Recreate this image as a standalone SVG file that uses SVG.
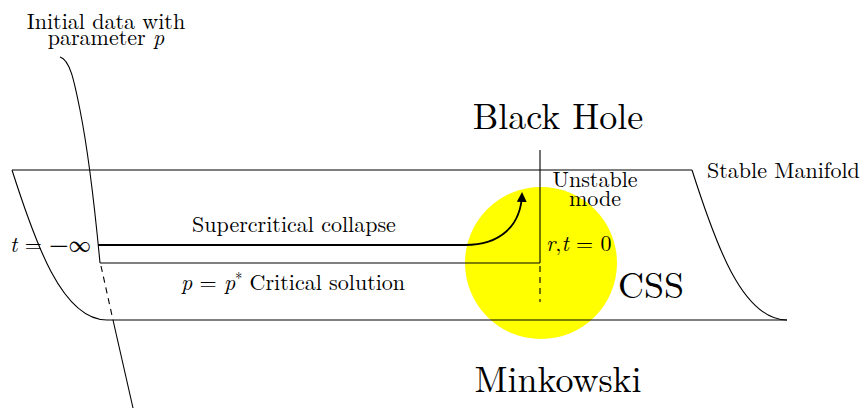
<svg xmlns="http://www.w3.org/2000/svg" width="861" height="410" viewBox="0 0 861 410">
<style>
  .ln{fill:none;stroke:#000;stroke-width:1.1}
  .th{fill:none;stroke:#000;stroke-width:1.8}
  .ds{fill:none;stroke:#000;stroke-width:1.1;stroke-dasharray:6,5}
  .it{font-style:italic}
</style>
<defs>
  <marker id="ah" markerWidth="10" markerHeight="10" refX="8" refY="5" orient="auto" markerUnits="userSpaceOnUse">
    <path d="M0,0 L10,5 L0,10 Z" fill="#000"/>
  </marker>
</defs>
<rect width="861" height="410" fill="#fff"/>
<g id="css-circle">
  <circle cx="541" cy="263" r="76" fill="#ffff00"/>
</g>
<g id="manifold">
  <path class="ln" d="M12,170 L692,170"/>
  <path class="ln" d="M107,320 L787,320"/>
  <path class="ln" d="M12,170 C35,242 62,320 107,320"/>
  <path class="ln" d="M692,170 C715,242 742,320 787,320"/>
</g>
<g id="initial-data">
  <path class="ln" d="M60,57 C70,60 74,80 80,110 C88,150 95,210 100,263"/>
  <path class="ds" d="M101,266 L113,320"/>
  <path class="ln" d="M113,320 L133,408"/>
</g>
<g id="connectors">
  <path class="th" d="M98,245 L465,245 C500,245 521,226 522,194" marker-end="url(#ah)"/>
  <path class="ln" d="M100,263 L540,263"/>
  <path class="ln" d="M540,150 L540,263"/>
  <path class="ds" d="M540,266 L540,302"/>
</g>
<g id="labels" fill="#000">
  <text x="106" y="29" font-family="Latin Modern Roman, serif" font-size="22" text-anchor="middle">Initial data with</text>
  <text x="106" y="45" font-family="Latin Modern Roman, serif" font-size="22" text-anchor="middle">parameter <tspan class="it">p</tspan></text>
  <text x="558" y="129" font-family="Latin Modern Roman, serif" font-size="36" text-anchor="middle">Black Hole</text>
  <text x="595" y="187" font-family="Latin Modern Roman, serif" font-size="22" text-anchor="middle">Unstable</text>
  <text x="595" y="206" font-family="Latin Modern Roman, serif" font-size="22" text-anchor="middle">mode</text>
  <text x="707" y="178" font-family="Latin Modern Roman, serif" font-size="22">Stable Manifold</text>
  <text x="294" y="232" font-family="Latin Modern Roman, serif" font-size="22" text-anchor="middle">Supercritical collapse</text>
  <text x="10" y="252" font-family="Latin Modern Roman, serif" font-size="22"><tspan class="it">t</tspan> = <tspan font-weight="bold">−</tspan>∞</text>
  <text x="546" y="251" font-family="Latin Modern Roman, serif" font-size="22"><tspan class="it">r</tspan>,<tspan class="it">t</tspan> = 0</text>
  <text x="181" y="290" font-family="Latin Modern Roman, serif" font-size="22"><tspan class="it">p</tspan> = <tspan class="it">p</tspan><tspan font-size="14" dy="-7">*</tspan><tspan dy="7"> Critical solution</tspan></text>
  <text x="618" y="298" font-family="Latin Modern Roman, serif" font-size="36">CSS</text>
  <text x="558" y="392" font-family="Latin Modern Roman, serif" font-size="36" text-anchor="middle">Minkowski</text>
</g>
</svg>
